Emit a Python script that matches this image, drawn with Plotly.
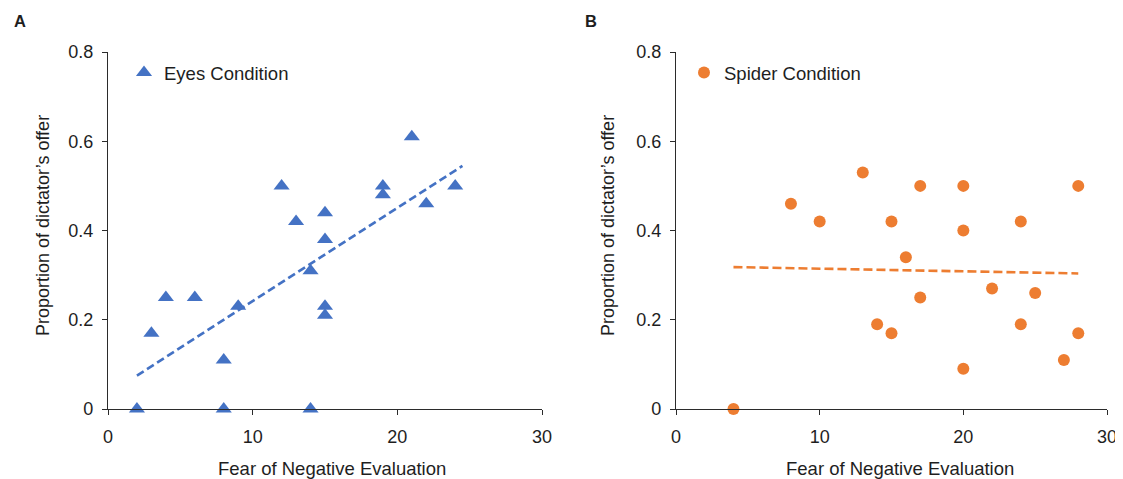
import numpy as np
import plotly.graph_objects as go

# ---- data ----
eyes_fne = [2, 3, 4, 6, 8, 8, 9, 12, 13, 14, 14, 15, 15, 15, 15, 19, 19, 21, 22, 24]
eyes_offer = [0, 0.17, 0.25, 0.25, 0.11, 0, 0.23, 0.50, 0.42, 0.31, 0, 0.44, 0.38, 0.23, 0.21,
              0.50, 0.48, 0.61, 0.46, 0.50]
spider_fne = [4, 8, 10, 13, 14, 15, 15, 16, 17, 17, 20, 20, 20, 22, 24, 24, 25, 27, 28, 28]
spider_offer = [0, 0.46, 0.42, 0.53, 0.19, 0.42, 0.17, 0.34, 0.50, 0.25, 0.50, 0.40, 0.09,
                0.27, 0.42, 0.19, 0.26, 0.11, 0.50, 0.17]
x_ticks = [0, 10, 20, 30]
y_ticks = [0, 0.2, 0.4, 0.6, 0.8]
y_tick_labels = ["0", "0.2", "0.4", "0.6", "0.8"]

BLUE = "#4472C4"
ORANGE = "#ED7D31"
FONT = "Liberation Sans, Arial, sans-serif"
TXT = "#1e1e1e"
OFF = 8  # page body margin
W, H = 1123 - OFF, 479 - OFF


def px(x):
    return (x - OFF) / W


def py(y):
    return (H - (y - OFF)) / H


def trend(x, y, extend=0.0):
    x = np.asarray(x, float)
    y = np.asarray(y, float)
    m, b = np.polyfit(x, y, 1)
    xs = np.array([x.min(), x.max() + extend])
    return xs, m * xs + b


fig = go.Figure()

fig.add_trace(go.Scatter(x=eyes_fne, y=eyes_offer, mode="markers", name="Eyes Condition",
                         marker=dict(symbol="triangle-up", size=14, color=BLUE),
                         cliponaxis=False, xaxis="x", yaxis="y", legend="legend"))
tx, ty = trend(eyes_fne, eyes_offer, 0.5)
fig.add_trace(go.Scatter(x=tx, y=ty, mode="lines", showlegend=False,
                         line=dict(color=BLUE, width=2.6, dash="8px,4px"),
                         xaxis="x", yaxis="y"))

fig.add_trace(go.Scatter(x=spider_fne, y=spider_offer, mode="markers", name="Spider Condition",
                         marker=dict(symbol="circle", size=12, color=ORANGE),
                         cliponaxis=False, xaxis="x2", yaxis="y2", legend="legend2"))
tx2, ty2 = trend(spider_fne, spider_offer)
fig.add_trace(go.Scatter(x=tx2, y=ty2, mode="lines", showlegend=False,
                         line=dict(color=ORANGE, width=2.6, dash="9px,4px"),
                         xaxis="x2", yaxis="y2"))

ax_common = dict(showline=True, linecolor="#2b2b2b", linewidth=1.3, ticks="outside",
                 ticklen=5, tickwidth=1.3, tickcolor="#2b2b2b", showgrid=False,
                 zeroline=False, tickfont=dict(family=FONT, size=18, color=TXT),
                 fixedrange=True, automargin=False)

y_dom = [py(409), py(52)]
xa_dom = [px(108), px(542)]
xb_dom = [px(676), px(1107)]

leg_common = dict(yanchor="top", xanchor="left", bgcolor="rgba(0,0,0,0)",
                  font=dict(family=FONT, size=18.5, color=TXT), itemwidth=30,
                  tracegroupgap=0)

fig.update_layout(
    width=W, height=H, margin=dict(l=0, r=0, t=0, b=0, autoexpand=False),
    paper_bgcolor="white", plot_bgcolor="white",
    font=dict(family=FONT, color=TXT),
    xaxis=dict(domain=xa_dom, range=[0, 30], tickvals=x_ticks, anchor="y",
               ticklabelstandoff=6, **ax_common),
    yaxis=dict(domain=y_dom, range=[0, 0.8], tickvals=y_ticks, ticktext=y_tick_labels,
               anchor="x", ticklabelstandoff=5, **ax_common),
    xaxis2=dict(domain=xb_dom, range=[0, 30], tickvals=x_ticks, anchor="y2",
                ticklabelstandoff=6, **ax_common),
    yaxis2=dict(domain=y_dom, range=[0, 0.8], tickvals=y_ticks, ticktext=y_tick_labels,
                anchor="x2", ticklabelstandoff=5, **ax_common),
    legend=dict(x=px(124), y=py(54), **leg_common),
    legend2=dict(x=px(684), y=py(54), **leg_common),
)

annos = [
    dict(text="<b>A</b>", x=px(20), y=py(21), font=dict(size=16.5)),
    dict(text="<b>B</b>", x=px(591), y=py(21), font=dict(size=16.5)),
    dict(text="Fear of Negative Evaluation", x=px(332), y=py(468), font=dict(size=18.5)),
    dict(text="Fear of Negative Evaluation", x=px(900), y=py(468), font=dict(size=18.5)),
    dict(text="Proportion of dictator\u2019s offer", x=px(43), y=py(226),
         textangle=-90, font=dict(size=18)),
    dict(text="Proportion of dictator\u2019s offer", x=px(608), y=py(226),
         textangle=-90, font=dict(size=18)),
]
for a in annos:
    a.update(xref="paper", yref="paper", showarrow=False, xanchor="center", yanchor="middle")
    a["font"].update(family=FONT, color=TXT)
    fig.add_annotation(**a)

fig.write_html("out.html")
